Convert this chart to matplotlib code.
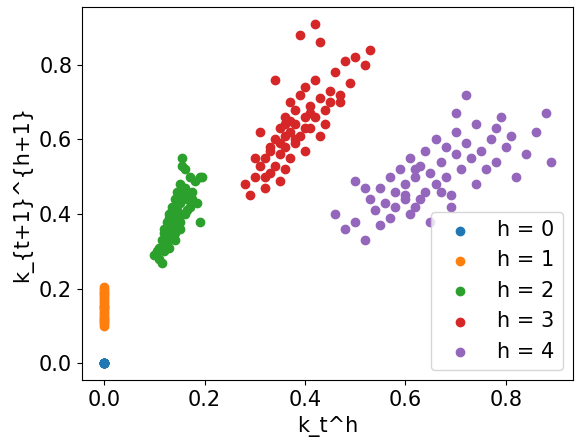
import matplotlib
matplotlib.use("Agg")
import matplotlib.pyplot as plt

h0_x = [0.0]*10
h0_y = [0.0]*10
h1_x = [0.0]*24
h1_y = [0.10,0.105,0.11,0.115,0.12,0.125,0.13,0.135,0.14,0.145,0.15,0.155,0.16,0.165,0.17,0.175,0.18,0.185,0.19,0.195,0.20,0.205,0.12,0.15]
h2_x = [0.10,0.105,0.11,0.11,0.115,0.12,0.12,0.12,0.125,0.125,0.13,0.13,0.13,0.135,0.135,0.14,0.14,0.14,0.145,0.145,0.15,0.15,0.15,0.155,0.155,0.16,0.16,0.16,0.165,0.17,0.17,0.175,0.18,0.185,0.19,0.195,0.15,0.14,0.13,0.12,0.16,0.155,0.145,0.135,0.125,0.165,0.175,0.19,0.115,0.15]
h2_y = [0.29,0.30,0.28,0.31,0.33,0.30,0.35,0.32,0.38,0.34,0.36,0.31,0.40,0.37,0.42,0.39,0.44,0.35,0.41,0.46,0.43,0.38,0.48,0.45,0.55,0.40,0.47,0.52,0.44,0.50,0.42,0.46,0.49,0.43,0.38,0.50,0.36,0.33,0.39,0.36,0.45,0.53,0.37,0.41,0.32,0.41,0.44,0.50,0.27,0.40]
h3_x = [0.28,0.29,0.30,0.31,0.32,0.32,0.33,0.33,0.34,0.34,0.35,0.35,0.35,0.36,0.36,0.36,0.37,0.37,0.37,0.38,0.38,0.38,0.39,0.39,0.40,0.40,0.40,0.41,0.41,0.42,0.42,0.43,0.43,0.44,0.45,0.46,0.47,0.48,0.49,0.50,0.52,0.53,0.42,0.34,0.31,0.39,0.36,0.44,0.33,0.38,0.41,0.35,0.30,0.45,0.37,0.40,0.43,0.47,0.32,0.36]
h3_y = [0.48,0.45,0.50,0.53,0.47,0.55,0.58,0.51,0.60,0.53,0.56,0.63,0.49,0.66,0.58,0.52,0.62,0.70,0.55,0.64,0.59,0.68,0.61,0.72,0.66,0.57,0.74,0.63,0.69,0.66,0.76,0.61,0.71,0.68,0.73,0.78,0.72,0.81,0.75,0.82,0.80,0.84,0.91,0.76,0.62,0.88,0.64,0.64,0.57,0.60,0.67,0.59,0.55,0.70,0.65,0.63,0.86,0.70,0.50,0.61]
h4_x = [0.46,0.48,0.50,0.52,0.53,0.54,0.55,0.56,0.57,0.57,0.58,0.59,0.60,0.60,0.61,0.62,0.62,0.63,0.64,0.64,0.65,0.66,0.66,0.67,0.68,0.68,0.69,0.70,0.70,0.71,0.72,0.73,0.74,0.75,0.76,0.77,0.78,0.79,0.80,0.81,0.82,0.84,0.86,0.88,0.89,0.55,0.58,0.61,0.63,0.65,0.67,0.69,0.72,0.74,0.52,0.60,0.70,0.78,0.50,0.62]
h4_y = [0.40,0.36,0.38,0.33,0.44,0.41,0.47,0.43,0.50,0.39,0.46,0.52,0.44,0.48,0.55,0.42,0.50,0.53,0.46,0.57,0.51,0.48,0.60,0.54,0.50,0.58,0.45,0.56,0.62,0.52,0.59,0.55,0.64,0.57,0.52,0.60,0.54,0.66,0.58,0.61,0.50,0.56,0.62,0.67,0.54,0.37,0.42,0.40,0.44,0.38,0.46,0.42,0.72,0.48,0.47,0.45,0.67,0.63,0.49,0.52]

plt.rcParams['font.size'] = 15
fig, ax = plt.subplots(figsize=(5.85, 4.45), dpi=100)
for i, (x, y) in enumerate([(h0_x,h0_y),(h1_x,h1_y),(h2_x,h2_y),(h3_x,h3_y),(h4_x,h4_y)]):
    ax.scatter(x, y, label=f"h = {i}", s=36)
ax.set_xlabel("k_t^h")
ax.set_ylabel("k_{t+1}^{h+1}")
ax.legend(loc="lower right")
fig.subplots_adjust(left=0.14, right=0.98, top=0.985, bottom=0.145)
fig.savefig("out.png")
